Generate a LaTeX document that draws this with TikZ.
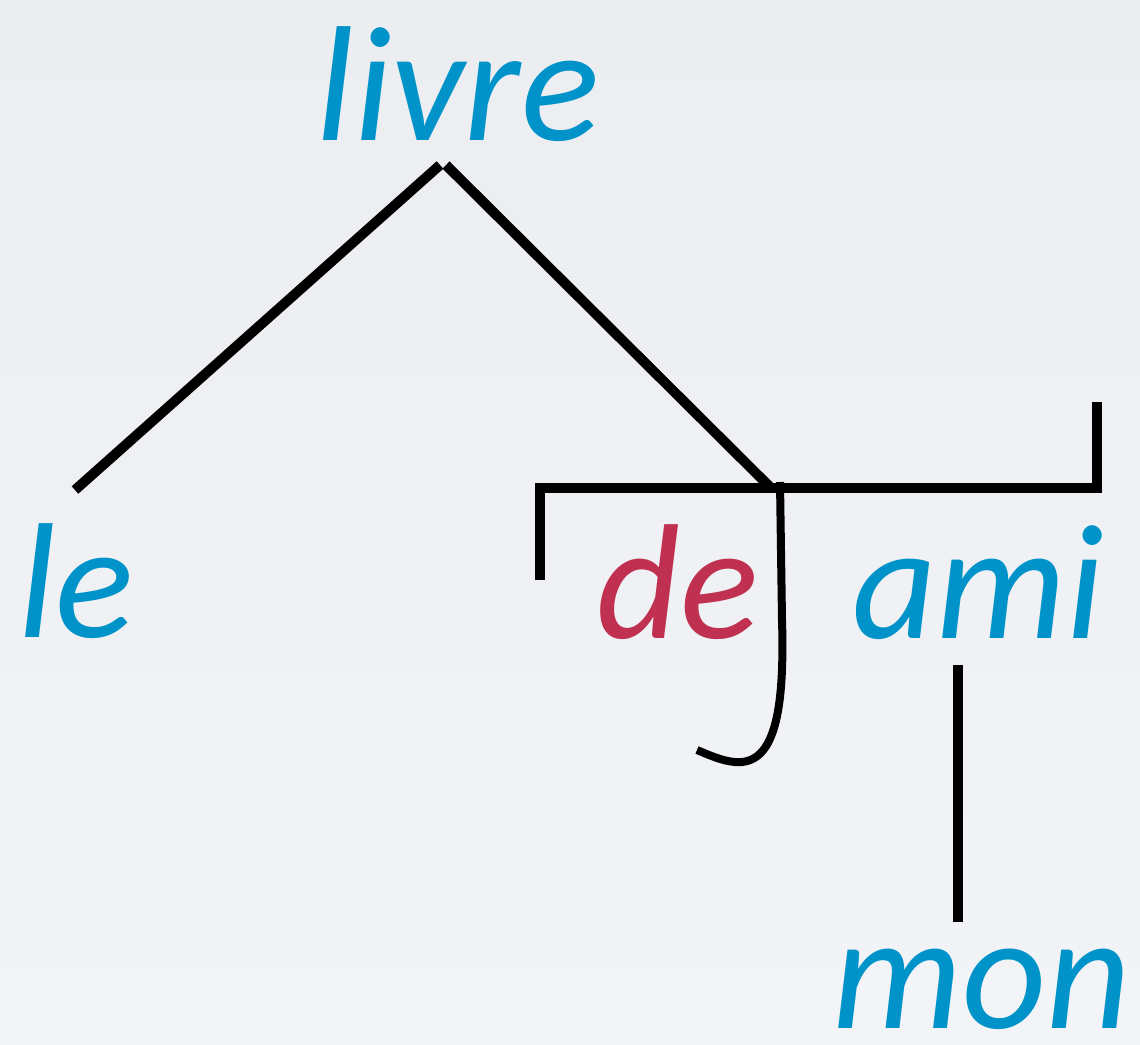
\documentclass[tikz,border=0pt]{standalone}
\usepackage{fontspec}
\setmainfont{Carlito}
\definecolor{wordblue}{RGB}{0,147,201}
\definecolor{wordred}{RGB}{192,48,80}
\definecolor{bgtop}{RGB}{235,237,241}
\definecolor{bgbot}{RGB}{243,244,247}
\tikzset{
  word/.style={font=\fontsize{164}{164}\selectfont\itshape, text=wordblue, inner sep=0pt, anchor=base},
  stem/.style={line width=10pt, black}
}
\begin{document}
\begin{tikzpicture}[x=1pt,y=-1pt]
        \fill[top color=bgtop, bottom color=bgbot] (0,0) rectangle (1140,1044);
        % words
        \node[word] (livre) at (458,140) {livre};
        \node[word] (le) at (76,637) {le};
        \node[word, text=wordred] (de) at (678,638) {de};
        \node[word] (ami) at (978,638) {ami};
        \node[word] (mon) at (982,1028) {mon};
        % line ends
        \coordinate (livre-l) at (440,165);
        \coordinate (livre-r) at (446,165);
        \coordinate (le-top) at (75,490);
        \coordinate (de-top) at (771,488);
        \coordinate (ami-foot) at (958,665);
        \coordinate (mon-top) at (958,922);
        % stemma
        \draw[stem] (livre-l) -- (le-top);
        \draw[stem] (livre-r) -- (de-top);
        \draw[stem] (540,580) -- (540,488) -- (1097,488) -- (1097,402);
        \draw[stem, line width=8pt] (780,482) -- (782,620) .. controls (785,720) and (772,765) .. (735,762) .. controls (722,761) and (709,755) .. (697,750);
        \draw[stem] (ami-foot) -- (mon-top);
    \end{tikzpicture}
\end{document}
